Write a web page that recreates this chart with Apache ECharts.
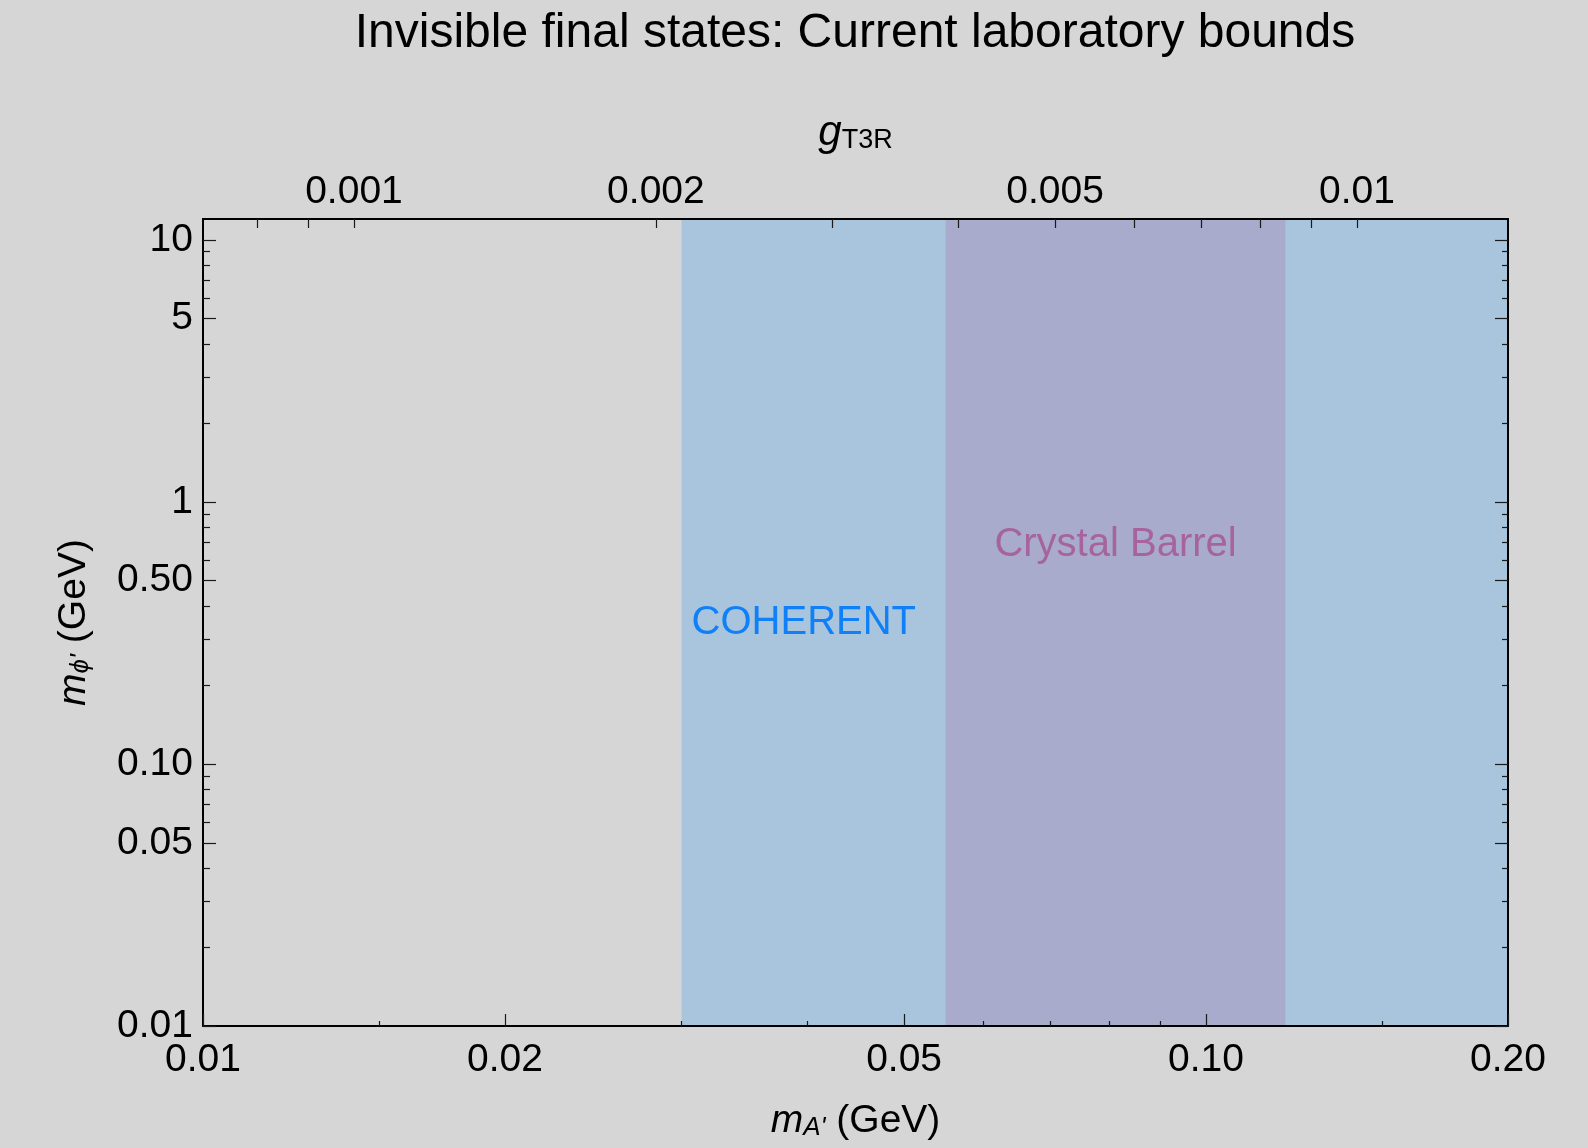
<!DOCTYPE html>
<html>
<head>
<meta charset="utf-8">
<script src="https://cdn.jsdelivr.net/npm/echarts@6/dist/echarts.min.js"></script>
<style>
html,body{margin:0;padding:0;background:#d6d6d6;}
#chart{width:1588px;height:1148px;}
</style>
</head>
<body>
<div id="chart"></div>
<script>
// ---- data ----
const xRange = [0.01, 0.2];          // m_A' (GeV)
const yRange = [0.01, 12];           // m_phi' (GeV)
const gRatio = 14.142;               // m_A' / g_T3R, read from the aligned top/bottom axes
const xMajorTicks = [0.01, 0.02, 0.05, 0.1, 0.2];
const xMajorLabels = ['0.01', '0.02', '0.05', '0.10', '0.20'];
const xMinorTicks = [0.015, 0.03, 0.04, 0.06, 0.07, 0.08, 0.09, 0.15];
const gMajorTicks = [0.001, 0.002, 0.005, 0.01];
const gMajorLabels = ['0.001', '0.002', '0.005', '0.01'];
const gMinorTicks = [0.0008, 0.0009, 0.003, 0.004, 0.006, 0.007, 0.008, 0.009];
const yMajorTicks = [0.01, 0.05, 0.1, 0.5, 1, 5, 10];
const yMajorLabels = ['0.01', '0.05', '0.10', '0.50', '1', '5', '10'];
const yMinorTicks = [0.02, 0.03, 0.04, 0.06, 0.07, 0.08, 0.09,
                     0.2, 0.3, 0.4, 0.6, 0.7, 0.8, 0.9,
                     2, 3, 4, 6, 7, 8, 9];
const bandNames = ['COHERENT', 'Crystal Barrel'];
const bandStart = [0.03, 0.055];
const bandEnd = [0.2, 0.12];

// ---- styling ----
const FONT = '"Liberation Sans", Arial, Helvetica, sans-serif';
const TICK_FS = 39;
const bandColors = ['#a9c4dd', '#a8abcb'];
const bandTextColors = ['#0f80f7', '#a6639f'];

function labelLookup(vals, labels) {
  return function (v) {
    let best = 0, bd = Infinity;
    for (let i = 0; i < vals.length; i++) {
      const d = Math.abs(Math.log10(v) - Math.log10(vals[i]));
      if (d < bd) { bd = d; best = i; }
    }
    return bd < 0.01 ? labels[best] : '';
  };
}

const lineStyle = { color: '#000', width: 2 };
const tickLine = { color: '#1a1a1a', width: 1.2 };
const AXIS_Z = 10;

function xAxisDef(opts) {
  return Object.assign({
    type: 'log', logBase: 10, gridIndex: 0, z: AXIS_Z,
    splitLine: { show: false }, minorTick: { show: false }, minorSplitLine: { show: false },
    axisLine: { show: false, onZero: false },
    axisLabel: { show: false },
    axisTick: { show: false }
  }, opts);
}

const richName = {
  i: { fontFamily: FONT, fontSize: 39, fontStyle: 'italic', color: '#000', lineHeight: 46, verticalAlign: 'bottom' },
  s: { fontFamily: FONT, fontSize: 26, fontStyle: 'italic', color: '#000', lineHeight: 40, verticalAlign: 'bottom' },
  n: { fontFamily: FONT, fontSize: 39, color: '#000', lineHeight: 46, verticalAlign: 'bottom' },
  g: { fontFamily: FONT, fontSize: 42, fontStyle: 'italic', color: '#000', lineHeight: 46, verticalAlign: 'bottom' },
  t: { fontFamily: FONT, fontSize: 27, color: '#000', lineHeight: 40, verticalAlign: 'bottom' }
};

const option = {
  backgroundColor: '#d6d6d6',
  animation: false,
  title: {
    text: 'Invisible final states: Current laboratory bounds',
    left: 855, top: 10, textAlign: 'center', padding: 0,
    textStyle: { fontFamily: FONT, fontSize: 48, fontWeight: 'normal', color: '#000' }
  },
  grid: { left: 203, top: 219, width: 1305, height: 807, containLabel: false, outerBoundsMode: 'none' },
  xAxis: [
    // bottom: major ticks + labels
    xAxisDef({
      position: 'bottom', min: xRange[0], max: xRange[1],
      axisLine: { show: true, onZero: false, lineStyle: lineStyle },
      axisTick: { show: true, inside: true, length: 12, lineStyle: tickLine, customValues: xMajorTicks },
      axisLabel: {
        show: true, customValues: xMajorTicks, formatter: labelLookup(xMajorTicks, xMajorLabels),
        fontFamily: FONT, fontSize: TICK_FS, color: '#000', margin: 15, showMinLabel: true, showMaxLabel: true
      },
      name: '{i|m}{s|A\'}{n| (GeV)}', nameLocation: 'middle', nameGap: 69,
      nameTextStyle: { rich: richName }
    }),
    // bottom: minor ticks
    xAxisDef({
      position: 'bottom', min: xRange[0], max: xRange[1],
      axisTick: { show: true, inside: true, length: 5, lineStyle: tickLine, customValues: xMinorTicks }
    }),
    // top: g_T3R axis
    xAxisDef({
      position: 'top', min: xRange[0] / gRatio, max: xRange[1] / gRatio,
      axisLine: { show: true, onZero: false, lineStyle: lineStyle },
      axisTick: { show: true, inside: true, length: 9, lineStyle: tickLine, customValues: gMajorTicks.concat(gMinorTicks) },
      axisLabel: {
        show: true, customValues: gMajorTicks, formatter: labelLookup(gMajorTicks, gMajorLabels),
        fontFamily: FONT, fontSize: TICK_FS, color: '#000', margin: 7
      },
      name: '{g|g}{t|T3R}', nameLocation: 'middle', nameGap: 65,
      nameTextStyle: { rich: richName }
    })
  ],
  yAxis: [
    // left major
    {
      type: 'log', logBase: 10, position: 'left', min: yRange[0], max: yRange[1], z: AXIS_Z,
      splitLine: { show: false },
      axisLine: { show: true, onZero: false, lineStyle: lineStyle },
      axisTick: { show: true, inside: true, length: 13, lineStyle: tickLine, customValues: yMajorTicks },
      axisLabel: {
        show: true, customValues: yMajorTicks, formatter: labelLookup(yMajorTicks, yMajorLabels),
        fontFamily: FONT, fontSize: TICK_FS, color: '#000', margin: 10, showMinLabel: true, showMaxLabel: true
      },
      name: '{i|m}{s|ϕ\'}{n| (GeV)}', nameLocation: 'middle', nameGap: 109, nameRotate: 90,
      nameTextStyle: { rich: richName }
    },
    // left minor
    {
      type: 'log', logBase: 10, position: 'left', min: yRange[0], max: yRange[1], z: AXIS_Z,
      splitLine: { show: false }, axisLine: { show: false, onZero: false }, axisLabel: { show: false },
      axisTick: { show: true, inside: true, length: 7, lineStyle: tickLine, customValues: yMinorTicks }
    },
    // right major
    {
      type: 'log', logBase: 10, position: 'right', min: yRange[0], max: yRange[1], z: AXIS_Z,
      splitLine: { show: false },
      axisLine: { show: true, onZero: false, lineStyle: lineStyle }, axisLabel: { show: false },
      axisTick: { show: true, inside: true, length: 13, lineStyle: tickLine, customValues: yMajorTicks }
    },
    // right minor
    {
      type: 'log', logBase: 10, position: 'right', min: yRange[0], max: yRange[1], z: AXIS_Z,
      splitLine: { show: false }, axisLine: { show: false, onZero: false }, axisLabel: { show: false },
      axisTick: { show: true, inside: true, length: 6, lineStyle: tickLine, customValues: yMinorTicks }
    }
  ],
  series: bandNames.map(function (name, i) {
    return {
      type: 'line', name: name, xAxisIndex: 0, yAxisIndex: 0, data: [], silent: true,
      z: 1 + i,
      markArea: {
        silent: true,
        itemStyle: { color: bandColors[i], opacity: 1 },
        label: i === 0
          ? { show: true, position: 'insideLeft', distance: 10, fontFamily: FONT, fontSize: 40, color: bandTextColors[i] }
          : { show: true, position: 'inside', offset: [0, -78], fontFamily: FONT, fontSize: 40, color: bandTextColors[i] },
        data: [[
          { name: name, xAxis: bandStart[i], yAxis: yRange[0] },
          { xAxis: bandEnd[i], yAxis: yRange[1] }
        ]]
      }
    };
  })
};

const chart = echarts.init(document.getElementById('chart'), null, { renderer: 'canvas' });
chart.setOption(option);
</script>
</body>
</html>
